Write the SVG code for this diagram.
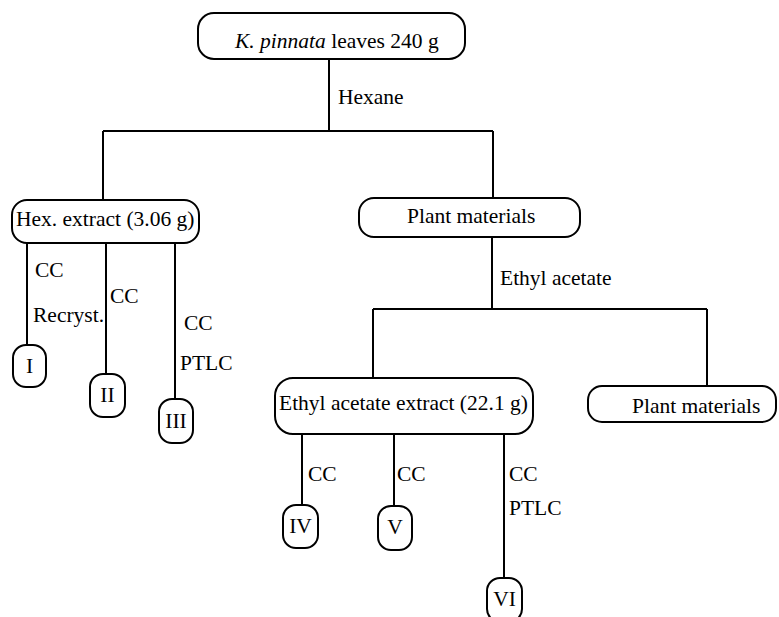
<svg xmlns="http://www.w3.org/2000/svg" width="779" height="617" viewBox="0 0 779 617">
<style>
.n{fill:#fff;stroke:#000;stroke-width:2}
.c{fill:none;stroke:#000;stroke-width:2}
text{font-family:'Liberation Serif','Tinos','DejaVu Serif',Times,serif;font-size:21.5px;fill:#000}
</style>
<rect width="779" height="617" fill="#fff"/>
<g id="connectors">
<path class="c" d="M329 59V131M103 131H493M103 131V200M493 131V198"/>
<path class="c" d="M27 243V345M106 243V374M175 243V399"/>
<path class="c" d="M492 237V309M373 309H707M373 309V378M707 309V386"/>
<path class="c" d="M302 434V505M394 434V506M504 434V578"/>
<text x="338" y="104">Hexane</text>
<text x="35" y="277">CC</text>
<text x="33" y="322">Recryst.</text>
<text x="110" y="303">CC</text>
<text x="184" y="330">CC</text>
<text x="180" y="370">PTLC</text>
<text x="500" y="285">Ethyl acetate</text>
<text x="308" y="481">CC</text>
<text x="397" y="481">CC</text>
<text x="509" y="481">CC</text>
<text x="509" y="515">PTLC</text>
</g>
<g id="top"><rect class="n" x="198" y="13" width="267" height="46" rx="16"/><text x="235" y="48"><tspan font-style="italic">K. pinnata</tspan> leaves 240 g</text></g>
<g id="hex"><rect class="n" x="12" y="200" width="187" height="43" rx="15"/><text x="16" y="226">Hex. extract (3.06 g)</text></g>
<g id="plant1"><rect class="n" x="359" y="198" width="221" height="39" rx="15"/><text x="407" y="223">Plant materials</text></g>
<g id="ethyl"><rect class="n" x="275" y="378" width="258" height="56" rx="18"/><text x="279" y="410">Ethyl acetate extract (22.1 g)</text></g>
<g id="plant2"><rect class="n" x="588" y="386" width="188" height="36" rx="14"/><text x="632" y="413">Plant materials</text></g>
<g id="n1"><rect class="n" x="13" y="345" width="33" height="42" rx="13"/><text x="29.5" y="373" text-anchor="middle">I</text></g>
<g id="n2"><rect class="n" x="90" y="374" width="35" height="43" rx="13"/><text x="107.5" y="402" text-anchor="middle">II</text></g>
<g id="n3"><rect class="n" x="159" y="399" width="34" height="44" rx="13"/><text x="176" y="428" text-anchor="middle">III</text></g>
<g id="n4"><rect class="n" x="283" y="505" width="35" height="43" rx="13"/><text x="300.5" y="533" text-anchor="middle">IV</text></g>
<g id="n5"><rect class="n" x="378" y="506" width="34" height="44" rx="13"/><text x="395" y="534" text-anchor="middle">V</text></g>
<g id="n6"><rect class="n" x="487" y="578" width="35" height="44" rx="13"/><text x="504.5" y="606" text-anchor="middle">VI</text></g>
</svg>
